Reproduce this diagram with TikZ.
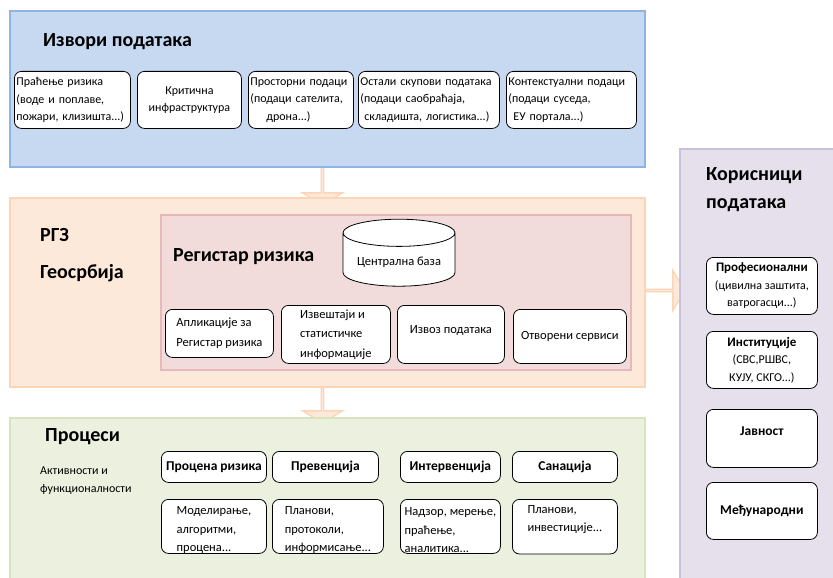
\documentclass[tikz,border=0pt]{standalone}
\usepackage{fontspec}
\setmainfont{Carlito}
\usetikzlibrary{positioning,calc,shapes.geometric,shapes.arrows,backgrounds}

% panel colours
\definecolor{srcfill}{HTML}{C6D9F1}
\definecolor{srcline}{HTML}{8EB4E3}
\definecolor{rgzfill}{HTML}{FDE9D9}
\definecolor{rgzline}{HTML}{FBD5B5}
\definecolor{regfill}{HTML}{F2DCDB}
\definecolor{regline}{HTML}{E6B9B8}
\definecolor{procfill}{HTML}{EBF1DE}
\definecolor{procline}{HTML}{D7E4BD}
\definecolor{usrfill}{HTML}{E5E0EC}
\definecolor{usrline}{HTML}{CCC1DA}

\newcommand\smalltxt{\fontsize{12}{17.5}\selectfont}
\newcommand\boxtxt{\fontsize{12.5}{19}\selectfont}
\newcommand\bigttl{\fontsize{20}{28}\selectfont\bfseries}
\newcommand\midttl{\fontsize{13.5}{18}\selectfont\bfseries}
\newcommand\detstrut{\rule{0pt}{16pt}} % pushes the first line down a bit

\tikzset{
  panel/.style={draw, line width=1.3pt, inner sep=0pt, outer sep=0pt, anchor=north west},
  rbox/.style={draw=black, fill=white, line width=0.8pt, rounded corners=7pt,
    inner xsep=2pt, inner ysep=0pt, anchor=north west, align=left, font=\boxtxt},
  srcbox/.style={rbox, font=\smalltxt, minimum height=57pt},
  detbox/.style={rbox, minimum height=54pt, inner ysep=-2pt, font=\fontsize{12.5}{18.5}\selectfont},
  hbox/.style={rbox, font=\midttl, align=center},
  ttl/.style={font=\bigttl, anchor=west, inner sep=0pt},
  bigarr/.style={single arrow, draw=rgzline, fill=rgzfill, line width=1.3pt,
    minimum width=40pt, minimum height=44pt, single arrow head extend=10pt,
    single arrow tip angle=118, inner sep=0pt},
}

\begin{document}
\begin{tikzpicture}[x=1pt,y=-1pt]
  \useasboundingbox (0,0) rectangle (833,578);
  \clip (0,0) rectangle (833,578);

  % main panels
  \node[panel, draw=srcline, fill=srcfill, minimum width=635pt, minimum height=156pt] (src) at (10,11) {};
  \node[panel, draw=rgzline, fill=rgzfill, minimum width=635pt, minimum height=189pt] (rgz) at (10,198) {};
  \node[panel, draw=regline, fill=regfill, minimum width=470pt, minimum height=155pt] (reg) at (161,215) {};
  \node[panel, draw=procline, fill=procfill, minimum width=635pt, minimum height=180pt] (proc) at (10,418) {};
  \node[panel, draw=usrline, fill=usrfill, minimum width=170pt, minimum height=450pt] (usr) at (680,149) {};

  % block arrows behind the panels
  \begin{scope}[on background layer]
    \node[bigarr, rotate=-90] (a1) at ($(src.south)!.5!(rgz.north)+(-5,0)$) {};
    \node[bigarr, rotate=-90] (a2) at ($(rgz.south)!.5!(proc.north)+(-5,-2)$) {};
    \node[bigarr] (a3) at ($(rgz.east)!.5!(usr.west |- rgz.east)+(0,-2)$) {};
  \end{scope}

  % data sources
  \node[ttl] (srcttl) at (43,42) {Извори података};
  \node[srcbox, minimum width=116pt, text width=112pt] (s1) at (14,71)
    {Праћење ризика\\(воде и поплаве,\\пожари, клизишта...)};
  \node[srcbox, minimum width=104pt, align=center] (s2) at (137,71)
    {Критична\\инфраструктура};
  \node[srcbox, minimum width=105pt, text width=101pt] (s3) at (248,71)
    {Просторни подаци\\(подаци сателита,\\\hspace*{16pt}дрона...)};
  \node[srcbox, minimum width=141pt, text width=137pt] (s4) at (358,71)
    {Остали скупови података\\(подаци саобраћаја,\\\hspace*{4pt}складишта, логистика...)};
  \node[srcbox, minimum width=130pt, text width=126pt] (s5) at (506,71)
    {Контекстуални подаци\\(подаци суседа,\\\hspace*{5pt}ЕУ портала...)};

  % RGZ and the risk register
  \node[ttl] (rgzttl) at (40,235) {РГЗ};
  \node[ttl] (geottl) at (40,273) {Геосрбија};
  \node[ttl] (regttl) at (173,257) {Регистар ризика};
  \node[cylinder, shape border rotate=90, aspect=0.3, draw, fill=white, line width=0.8pt,
    minimum width=112pt, minimum height=67pt, font=\fontsize{12.5}{15}\selectfont] (db) at (399,262) {Централна база};
  \node[rbox, minimum width=108pt, minimum height=48pt, font=\fontsize{12.5}{20}\selectfont] (r1) at (165,309)
    {Апликације за\\Регистар ризика};
  \node[rbox, minimum width=109pt, minimum height=58pt, font=\fontsize{12.5}{19.5}\selectfont] (r2) at (281,305)
    {Извештаји и\\статистичке\\информације};
  \node[rbox, minimum width=107pt, minimum height=58pt] (r3) at (397,305) {Извоз података\\[-10pt]};
  \node[rbox, minimum width=113pt, minimum height=54pt] (r4) at (513,309) {Отворени сервиси};

  % processes
  \node[ttl] (procttl) at (45,437) {Процеси};
  \node[anchor=north west, inner sep=0pt, align=left, font=\fontsize{12}{18}\selectfont] (act) at (40,467)
    {Активности и\\функционалности};
  \node[hbox, minimum width=105pt, minimum height=31pt] (h1) at (161,451) {Процена ризика};
  \node[hbox, minimum width=106pt, minimum height=31pt] (h2) at (272,451) {Превенција};
  \node[hbox, minimum width=100pt, minimum height=31pt] (h3) at (400,451) {Интервенција};
  \node[hbox, minimum width=105pt, minimum height=31pt] (h4) at (512,451) {Санација};
  \node[detbox, minimum width=105pt] (d1) at (161,499)
    {\detstrut Моделирање,\\алгоритми,\\процена...};
  \node[detbox, minimum width=111pt] (d2) at (272,499)
    {\detstrut Планови,\\протоколи,\\информисање...};
  \node[detbox, minimum width=100pt] (d3) at (400,499)
    {\detstrut Надзор, мерење,\\праћење,\\аналитика...};
  \node[detbox, minimum width=105pt] (d4) at (512,499)
    {\detstrut Планови,\\инвестиције...\\\strut};

  % data users
  \node[anchor=north west, inner sep=0pt, align=left, font=\bigttl] (usrttl) at (706,167)
    {Корисници\\података};
  \node[rbox, minimum width=111pt, minimum height=57pt, align=center, font=\smalltxt] (u1) at (706,257)
    {\fontsize{13}{17.5}\selectfont\textbf{Професионални}\\(цивилна заштита,\\ватрогасци...)};
  \node[rbox, minimum width=111pt, minimum height=57pt, align=center, font=\smalltxt] (u2) at (706,331)
    {\fontsize{13}{17.5}\selectfont\textbf{Институције}\\(СВС,РШВС,\\КУЈУ, СКГО...)};
  \node[hbox, minimum width=111pt, minimum height=58pt] (u3) at (706,409)
    {Јавност\\[-4pt]};
  \node[hbox, minimum width=111pt, minimum height=57pt] (u4) at (706,482)
    {Међународни};
\end{tikzpicture}
\end{document}
